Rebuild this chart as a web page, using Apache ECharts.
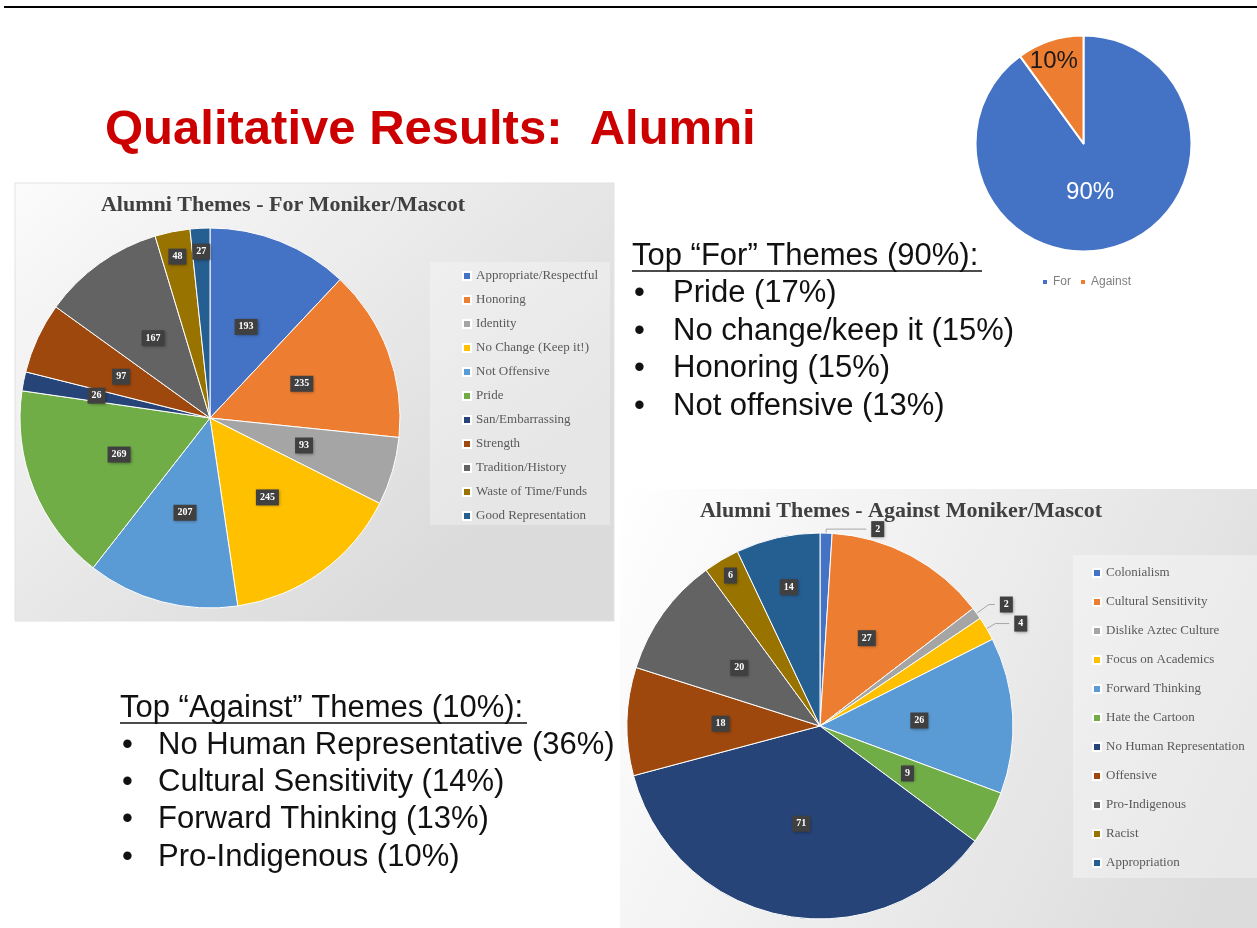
<!DOCTYPE html>
<html>
<head>
<meta charset="utf-8">
<script src="https://cdn.jsdelivr.net/npm/echarts@6/dist/echarts.min.js"></script>
<style>
  html, body { margin: 0; padding: 0; background: #fff; }
  #slide { width: 1257px; height: 928px; }
</style>
</head>
<body>
<div id="slide"></div>
<script>
// values
const forThemes = ['Appropriate/Respectful', 'Honoring', 'Identity', 'No Change (Keep it!)', 'Not Offensive',
  'Pride', 'San/Embarrassing', 'Strength', 'Tradition/History', 'Waste of Time/Funds', 'Good Representation'];
const forCounts = [193, 235, 93, 245, 207, 269, 26, 97, 167, 48, 27];

const againstThemes = ['Colonialism', 'Cultural Sensitivity', 'Dislike Aztec Culture', 'Focus on Academics',
  'Forward Thinking', 'Hate the Cartoon', 'No Human Representation', 'Offensive', 'Pro-Indigenous', 'Racist', 'Appropriation'];
const againstCounts = [2, 27, 2, 4, 26, 9, 71, 18, 20, 6, 14];

const splitNames = ['For', 'Against'];
const splitShares = [90, 10];

const forBullets = ['Pride (17%)', 'No change/keep it (15%)', 'Honoring (15%)', 'Not offensive (13%)'];
const againstBullets = ['No Human Representative (36%)', 'Cultural Sensitivity (14%)', 'Forward Thinking (13%)', 'Pro-Indigenous (10%)'];

// office palette
const palette = ['#4472C4', '#ED7D31', '#A5A5A5', '#FFC000', '#5B9BD5', '#70AD47',
  '#264478', '#9E480E', '#636363', '#997300', '#255E91'];

const sans = '"Liberation Sans", Arial, sans-serif';
const serif = '"Liberation Serif", "Times New Roman", serif';

const boxLabel = {
  show: true,
  position: 'inside',
  formatter: '{c}',
  color: '#fff',
  fontFamily: serif,
  fontWeight: 'bold',
  fontSize: 10,
  backgroundColor: '#404040',
  padding: [3, 4],
  shadowColor: 'rgba(0,0,0,0.35)',
  shadowBlur: 3,
  shadowOffsetX: 1,
  shadowOffsetY: 1
};

// leader line lengths for the thin slices labelled outside
const leaders = { 0: [4, 40], 2: [15, 6], 3: [10, 14] };
// "best fit" labels that Excel pushed out towards the rim
const forPush = { 6: 1.18, 9: 1.68, 10: 1.7 };
const againstPush = { 9: 1.76, 10: 1.43 };

function pushOut(center, push) {
  return function (p) {
    const f = push[p.dataIndex];
    if (!f) return { hideOverlap: false };
    const r = p.labelRect;
    const lx = r.x + r.width / 2, ly = r.y + r.height / 2;
    return { dx: (lx - center[0]) * (f - 1), dy: (ly - center[1]) * (f - 1), hideOverlap: false };
  };
}

const forData = forThemes.map((n, i) => ({ name: n, value: forCounts[i], itemStyle: { color: palette[i] } }));
const againstData = againstThemes.map((n, i) => {
  const d = { name: n, value: againstCounts[i], itemStyle: { color: palette[i] } };
  if (leaders[i]) {
    d.label = { position: 'outside' };
    d.labelLine = { show: true, length: leaders[i][0], length2: leaders[i][1] };
  }
  return d;
});
const splitData = splitNames.map((n, i) => ({
  name: n, value: splitShares[i],
  itemStyle: { color: palette[i] },
  label: { color: i === 0 ? '#fff' : '#1a1a1a' }
}));

function bulletBlock(heading, items, x, headY, textX, lineGap, underlineW) {
  const font = '31px ' + sans;
  const els = [{
    type: 'text', z: 50,
    style: { text: heading, x: x, y: headY, font: font, fill: '#111', verticalAlign: 'middle' }
  }, {
    type: 'line', z: 50,
    shape: { x1: x, y1: headY + 15, x2: x + underlineW, y2: headY + 15 },
    style: { stroke: '#111', lineWidth: 1.5 }
  }];
  items.forEach((t, i) => {
    const y = headY + lineGap * (i + 1);
    els.push({ type: 'text', z: 50, style: { text: '•', x: x + 2, y: y, font: font, fill: '#111', verticalAlign: 'middle' } });
    els.push({ type: 'text', z: 50, style: { text: t, x: textX, y: y, font: font, fill: '#111', verticalAlign: 'middle' } });
  });
  return els;
}

const forCenter = [210, 418];
const againstCenter = [820, 726];

const chart = echarts.init(document.getElementById('slide'));

chart.setOption({
  animation: false,
  color: palette,
  graphic: [
    { type: 'line', z: 0, shape: { x1: 4, y1: 7, x2: 1257, y2: 7 }, style: { stroke: '#000', lineWidth: 2 } },
    {
      type: 'text', z: 50,
      style: { text: 'Qualitative Results:  Alumni', x: 105, y: 130, font: 'bold 49px ' + sans, fill: '#CC0000', verticalAlign: 'middle' }
    },
    {
      type: 'rect', z: 0,
      shape: { x: 15, y: 183, width: 599, height: 438 },
      style: {
        fill: new echarts.graphic.LinearGradient(0, 0, 0.6, 1, [
          { offset: 0, color: '#fbfbfb' }, { offset: 1, color: '#dbdbdb' }
        ]),
        stroke: '#e2e2e2', lineWidth: 1
      }
    },
    { type: 'rect', z: 1, shape: { x: 430, y: 262, width: 180, height: 263 }, style: { fill: 'rgba(255,255,255,0.3)' } },
    {
      type: 'rect', z: 0,
      shape: { x: 620, y: 489, width: 637, height: 439 },
      style: {
        fill: new echarts.graphic.LinearGradient(0, 0, 1, 0.7, [
          { offset: 0, color: '#ffffff' }, { offset: 1, color: '#dcdcdc' }
        ])
      }
    },
    { type: 'rect', z: 1, shape: { x: 1073, y: 555, width: 184, height: 323 }, style: { fill: 'rgba(255,255,255,0.35)' } },
    {
      type: 'text', z: 50,
      style: { text: 'Alumni Themes - For Moniker/Mascot', x: 283, y: 205, font: 'bold 22px ' + serif, fill: '#404040', align: 'center', verticalAlign: 'middle' }
    },
    {
      type: 'text', z: 50,
      style: { text: 'Alumni Themes - Against Moniker/Mascot', x: 901, y: 511, font: 'bold 22px ' + serif, fill: '#404040', align: 'center', verticalAlign: 'middle' }
    }
  ]
    .concat(bulletBlock('Top \u201cFor\u201d Themes (90%):', forBullets, 632, 256, 673, 37.5, 350))
    .concat(bulletBlock('Top \u201cAgainst\u201d Themes (10%):', againstBullets, 120, 708, 158, 37.3, 407)),
  legend: [
    {
      data: forThemes, orient: 'vertical', left: 457, top: 264,
      icon: 'rect', itemWidth: 8, itemHeight: 8, itemGap: 10,
      textStyle: { fontFamily: serif, fontSize: 13, lineHeight: 14, color: '#595959' }
    },
    {
      data: againstThemes, orient: 'vertical', left: 1087, top: 561,
      icon: 'rect', itemWidth: 8, itemHeight: 8, itemGap: 15,
      textStyle: { fontFamily: serif, fontSize: 13, lineHeight: 14, color: '#595959' }
    },
    {
      data: splitNames, orient: 'horizontal', left: 1036, top: 271,
      icon: 'rect', itemWidth: 6, itemHeight: 6, itemGap: 8,
      textStyle: { fontFamily: sans, fontSize: 12, lineHeight: 12, color: '#7f7f7f' }
    }
  ],
  series: [
    {
      type: 'pie', name: 'For', center: forCenter, radius: 190,
      startAngle: 90, clockwise: true, avoidLabelOverlap: false,
      itemStyle: { borderColor: '#fff', borderWidth: 1 },
      label: boxLabel,
      labelLine: { show: false },
      labelLayout: pushOut(forCenter, forPush),
      emphasis: { disabled: true },
      data: forData
    },
    {
      type: 'pie', name: 'Against', center: againstCenter, radius: 193,
      startAngle: 90, clockwise: true,
      itemStyle: { borderColor: '#fff', borderWidth: 1 },
      label: boxLabel,
      labelLine: { show: false, lineStyle: { color: '#a6a6a6', width: 1 } },
      labelLayout: pushOut(againstCenter, againstPush),
      emphasis: { disabled: true },
      data: againstData
    },
    {
      type: 'pie', name: 'Split', center: [1083.5, 143.5], radius: 108,
      startAngle: 90, clockwise: true,
      itemStyle: { borderColor: '#fff', borderWidth: 2 },
      label: { show: true, position: 'inside', formatter: '{d}%', fontFamily: sans, fontSize: 24 },
      labelLine: { show: false },
      labelLayout: function (p) {
        if (p.dataIndex === 1) return { dx: -12, dy: -28 };
        return { dx: -11, dy: -5 };
      },
      emphasis: { disabled: true },
      data: splitData
    }
  ]
});
</script>
</body>
</html>
